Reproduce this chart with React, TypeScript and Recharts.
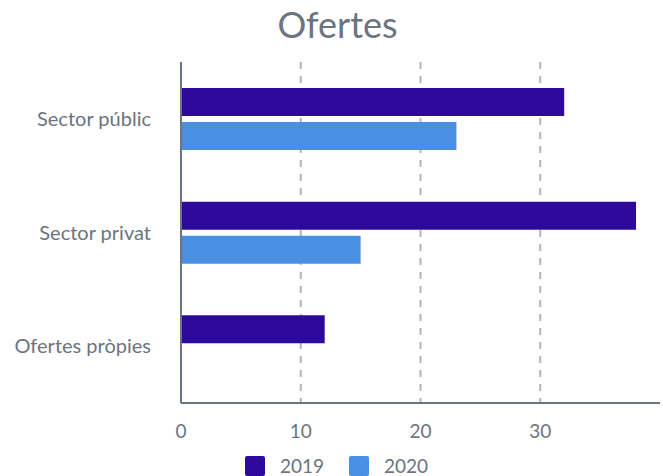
import React from 'react';
import { BarChart, Bar, XAxis, YAxis, CartesianGrid, Legend } from 'recharts';

const categories = ['Sector públic', 'Sector privat', 'Ofertes pròpies'];
const values2019 = [32, 38, 12];
const values2020 = [23, 15, 0];
const xTicks = [0, 10, 20, 30];

const series = [
  { key: '2019', color: '#2e0a9c', values: values2019 },
  { key: '2020', color: '#4a90e2', values: values2020 },
];

const data = categories.map((name, i) => {
  const row: Record<string, string | number> = { name };
  series.forEach(s => {
    row[s.key] = s.values[i];
  });
  return row;
});

const textColor = '#6b7480';
const font = 'Lato, "Noto Sans", sans-serif';

const renderLegend = (props: any) => {
  const { payload } = props;
  return (
    <div style={{ height: 33, display: 'flex', justifyContent: 'center', paddingLeft: 38, boxSizing: 'border-box' }}>
      {(payload || []).map((entry: any) => (
        <div key={entry.value} style={{ display: 'flex', alignItems: 'center', marginTop: 12, marginRight: 25 }}>
          <span style={{ width: 20, height: 20, borderRadius: 2, background: entry.color, display: 'inline-block', marginRight: 15 }} />
          <span style={{ fontFamily: font, fontSize: 19, color: textColor, lineHeight: '20px' }}>{entry.value}</span>
        </div>
      ))}
    </div>
  );
};

export default function App() {
  return (
    <div style={{ position: 'absolute', left: 0, top: 0, width: 663, height: 476, background: '#fff' }}>
      <div style={{ position: 'absolute', top: 2, left: 0, width: 663, textAlign: 'center', paddingLeft: 12, boxSizing: 'border-box', fontFamily: font, fontSize: 36, color: textColor }}>
        Ofertes
      </div>
      <BarChart
        width={663}
        height={476}
        data={data}
        layout="vertical"
        margin={{ top: 62, right: 3, bottom: 0, left: 0 }}
        barSize={28}
        barGap={6}
      >
        {/* grid only on the inner ticks, none at the right edge */}
        <CartesianGrid
          horizontal={false}
          vertical
          verticalValues={xTicks.filter(t => t > 0)}
          stroke="#b4b4b8"
          strokeWidth={2}
          strokeDasharray="7 7"
        />
        <XAxis
          type="number"
          domain={[0, 40]}
          ticks={xTicks}
          height={40}
          tickLine={false}
          tickSize={6}
          tickMargin={16}
          axisLine={{ stroke: textColor, strokeWidth: 2 }}
          tick={{ fill: textColor, fontSize: 19, fontFamily: font }}
        />
        <YAxis
          type="category"
          dataKey="name"
          width={181}
          tickLine={false}
          tickSize={6}
          tickMargin={24}
          axisLine={{ stroke: textColor, strokeWidth: 2 }}
          tick={{ fill: textColor, fontSize: 20, fontFamily: font }}
        />
        <Legend verticalAlign="bottom" content={renderLegend} />
        {series.map(s => (
          <Bar key={s.key} dataKey={s.key} name={s.key} fill={s.color} isAnimationActive={false} />
        ))}
      </BarChart>
    </div>
  );
}
